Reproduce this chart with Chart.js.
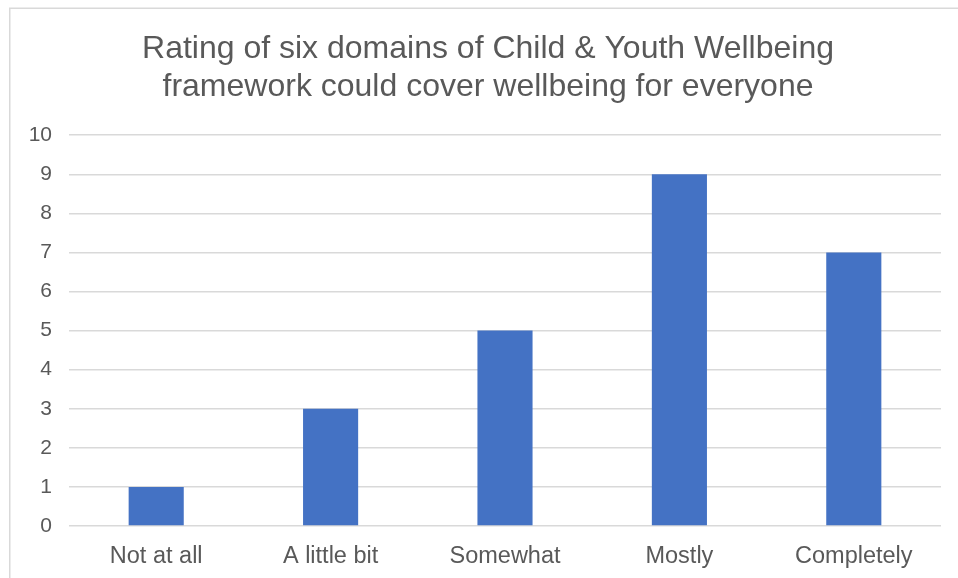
<!DOCTYPE html>
<html>
<head>
<meta charset="utf-8">
<script src="https://cdn.jsdelivr.net/npm/chart.js@4"></script>
<style>
    html, body { margin: 0; padding: 0; background: #ffffff; }
    #wrap { position: relative; width: 958px; height: 578px; }
</style>
</head>
<body>
<div id="wrap"><canvas id="chart" width="958" height="578"></canvas></div>
<script>
const titleLines = ["Rating of six domains of Child & Youth Wellbeing", "framework could cover wellbeing for everyone"];
const categories = ["Not at all", "A little bit", "Somewhat", "Mostly", "Completely"];
const counts = [1, 3, 5, 9, 7];
const yMin = 0;
const yMax = 10;

const textColor = "#595959";
const gridColor = "#d9d9d9";
const fontFamily = "'Liberation Sans', Arial, sans-serif";

// light frame line on the left and top edge, like the exported chart box
const frame = {
    id: "frame",
    afterLayout(chart) {
        // title sits centred over the whole box, not just the plot
        if (chart.titleBlock) chart.titleBlock.left = 35;
    },
    beforeDraw(chart) {
        let ctx = chart.ctx;
        ctx.save();
        ctx.strokeStyle = gridColor;
        ctx.lineWidth = 1.5;
        ctx.beginPath();
        ctx.moveTo(9.75, chart.height);
        ctx.lineTo(9.75, 8.25);
        ctx.lineTo(chart.width, 8.25);
        ctx.stroke();
        ctx.restore();
    },
};

Chart.defaults.font.family = fontFamily;
Chart.defaults.color = textColor;

new Chart(document.getElementById("chart"), {
    type: "bar",
    data: {
        labels: categories,
        datasets: [
            {
                label: "Count",
                data: counts,
                backgroundColor: "#4472c4",
                categoryPercentage: 1,
                barPercentage: 0.316,
            },
        ],
    },
    options: {
        responsive: false,
        animation: false,
        layout: {
            padding: { left: 0, right: 17, top: 23, bottom: 0 },
        },
        plugins: {
            legend: { display: false },
            tooltip: { enabled: false },
            title: {
                display: true,
                text: titleLines,
                color: textColor,
                font: { size: 32, weight: "normal", lineHeight: 1.16 },
                padding: { top: 8, bottom: 30 },
            },
        },
        scales: {
            x: {
                grid: { display: false },
                border: { display: false },
                ticks: {
                    color: textColor,
                    font: { size: 23.5 },
                    padding: 8,
                    maxRotation: 0,
                },
                afterFit(scale) {
                    scale.height = 52;
                },
            },
            y: {
                min: yMin,
                max: yMax,
                border: { display: false },
                grid: {
                    color: gridColor,
                    lineWidth: 1.5,
                    drawTicks: false,
                },
                ticks: {
                    stepSize: 1,
                    color: textColor,
                    font: { size: 21 },
                    padding: 17,
                },
                afterFit(scale) {
                    scale.width = 69;
                },
            },
        },
    },
    plugins: [frame],
});
</script>
</body>
</html>
